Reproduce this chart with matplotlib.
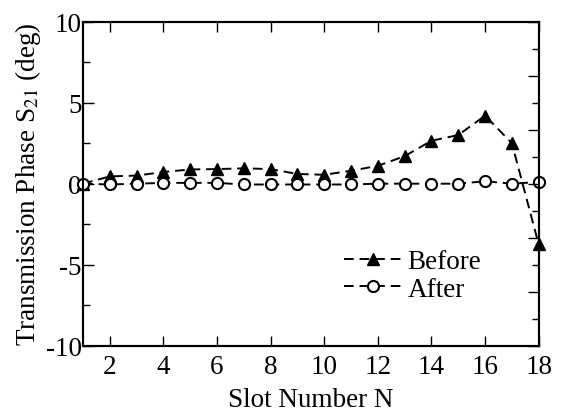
import matplotlib
matplotlib.use("Agg")
import matplotlib.pyplot as plt
from matplotlib.ticker import MultipleLocator

plt.rcParams['font.family'] = ['Liberation Serif', 'DejaVu Serif']
plt.rcParams['mathtext.fontset'] = 'stix'
plt.rcParams['axes.unicode_minus'] = False

slots = list(range(1, 19))
before = [0.0, 0.45, 0.5, 0.72, 0.88, 0.9, 0.95, 0.9, 0.6, 0.55, 0.8, 1.1,
          1.7, 2.65, 3.0, 4.2, 2.5, -3.75]
after = [0.0, -0.05, 0.0, 0.05, 0.05, 0.05, -0.05, -0.05, -0.05, -0.05, -0.05,
         0.0, 0.0, 0.0, 0.0, 0.15, 0.0, 0.1]

FS = 19.5

fig = plt.figure(figsize=(5.62, 4.14), dpi=100)
ax = fig.add_axes([0.1477, 0.1626, 0.8108, 0.7826])

ax.plot(slots, before, ls='--', dashes=(5, 3), color='black', lw=1.4,
        marker='^', ms=9, mfc='black', mec='black', label='Before', clip_on=False, zorder=3)
ax.plot(slots, after, ls='--', dashes=(5, 3), color='black', lw=1.4,
        marker='o', ms=8, mfc='white', mec='black', mew=1.5, label='After', clip_on=False, zorder=4)

ax.set_xlim(1, 18)
ax.set_ylim(-10, 10)
ax.xaxis.set_major_locator(MultipleLocator(2))
ax.yaxis.set_major_locator(MultipleLocator(5))
ax.yaxis.set_minor_locator(MultipleLocator(2.5))
ax.tick_params(axis='both', which='both', direction='in', labelsize=FS, width=1)
ax.tick_params(axis='x', which='major', top=True, length=7, pad=6)
ax.tick_params(axis='y', which='major', length=8, pad=1)
ax.tick_params(axis='y', which='minor', length=5)
for s in ax.spines.values():
    s.set_linewidth(1.5)

# right-hand scale without labels
ax2 = ax.twinx()
ax2.set_ylim(0, 12)
ax2.yaxis.set_major_locator(MultipleLocator(2))
ax2.yaxis.set_minor_locator(MultipleLocator(1))
ax2.tick_params(axis='y', which='both', direction='in', labelright=False, width=1)
ax2.tick_params(axis='y', which='major', length=8)
ax2.tick_params(axis='y', which='minor', length=5)
for s in ax2.spines.values():
    s.set_linewidth(1.5)

ax.set_xlabel('Slot Number N', fontsize=FS, labelpad=6)
ax.set_ylabel('Transmission Phase S$_{21}$ (deg)', fontsize=FS, labelpad=2)

ax.legend(loc='upper left', bbox_to_anchor=(0.572, 0.297), frameon=False, fontsize=FS,
          handlelength=2.2, handletextpad=0.15, labelspacing=0.08,
          borderpad=0, borderaxespad=0)

fig.savefig('out.png', dpi=100)
